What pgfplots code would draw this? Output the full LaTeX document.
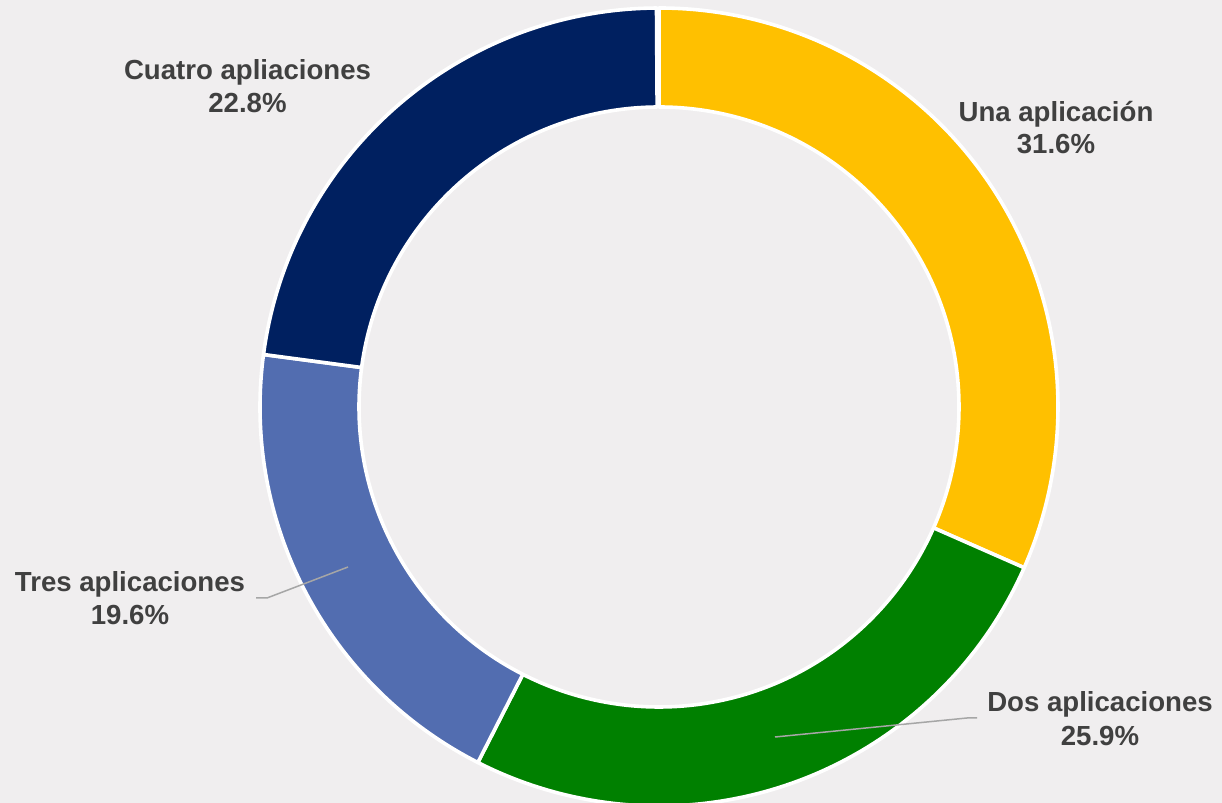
\documentclass[border=0pt]{standalone}
\usepackage{pgfplots}
\pgfplotsset{compat=1.18}
\usepackage{pgfplotstable}
\usepackage{fontspec}
\setmainfont{Liberation Sans}
\definecolor{bg}{HTML}{F0EEEF}
\definecolor{col0}{HTML}{FFC000}
\definecolor{col1}{HTML}{008000}
\definecolor{col2}{HTML}{526DB0}
\definecolor{col3}{HTML}{002060}
\definecolor{txt}{HTML}{404040}
\definecolor{lead}{HTML}{A6A6A6}
\pgfplotstableread{
label value
Una 31.6
Dos 25.9
Tres 19.6
Cuatro 22.8
}\shares
\begin{document}
\begin{tikzpicture}
\begin{axis}[
  scale only axis, width=611pt, height=401.5pt,
  xmin=0, xmax=1222, ymin=0, ymax=803,
  hide axis, clip=true,
]
\fill[bg] (axis cs:0,0) rectangle (axis cs:1222,803);
\def\startang{90}
\pgfplotsforeachungrouped \i in {0,...,3}{%
  \pgfplotstablegetelem{\i}{value}\of\shares
  \pgfmathsetmacro\endang{\startang-3.6*\pgfplotsretval}%
  \edef\slice{\noexpand\filldraw[fill=col\i, draw=white, line width=1.8pt, line join=round]
    (axis cs:659,396) ++(\startang:199.5pt) arc[start angle=\startang, end angle=\endang, radius=199.5pt]
    -- ++(\endang:-49.5pt) arc[start angle=\endang, end angle=\startang, radius=150pt] -- cycle;}%
  \slice
  \global\let\startang\endang
}
\draw[lead, line width=0.75pt] (axis cs:256,205) -- (axis cs:267,205) -- (axis cs:348,236);
\draw[lead, line width=0.75pt] (axis cs:775,66) -- (axis cs:967,85) -- (axis cs:977,85);
\tikzset{lab/.style={anchor=base, text=txt, font=\fontsize{13.8}{16}\selectfont\bfseries, inner sep=0pt}}
\node[lab] at (axis cs:1056,681) {Una aplicación};
\node[lab] at (axis cs:1056,649) {31.6\%};
\node[lab] at (axis cs:247.5,723) {Cuatro apliaciones};
\node[lab] at (axis cs:247.5,690) {22.8\%};
\node[lab] at (axis cs:130,211) {Tres aplicaciones};
\node[lab] at (axis cs:130,178) {19.6\%};
\node[lab] at (axis cs:1100,91) {Dos aplicaciones};
\node[lab] at (axis cs:1100,57) {25.9\%};
\end{axis}
\pgfresetboundingbox
\path (current axis.south west) rectangle (current axis.north east);
\end{tikzpicture}
\end{document}
